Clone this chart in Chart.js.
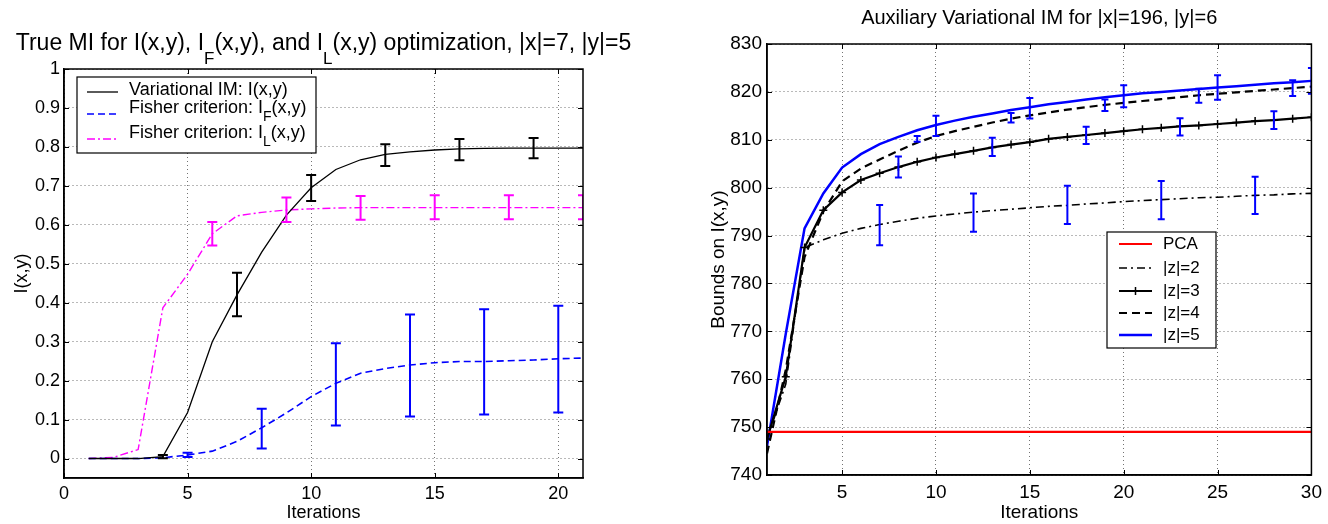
<!DOCTYPE html>
<html>
<head>
<meta charset="utf-8">
<script src="https://cdn.jsdelivr.net/npm/chart.js@4.4.1/dist/chart.umd.min.js"></script>
<style>
  html, body { margin: 0; padding: 0; background: #fff; }
  #wrap { position: relative; width: 1328px; height: 524px; }
  .pane { position: absolute; top: 0; width: 664px; height: 524px; }
</style>
</head>
<body>
<div id="wrap">
  <div class="pane" style="left:0"><canvas id="leftChart" width="664" height="524"></canvas></div>
  <div class="pane" style="left:664px"><canvas id="rightChart" width="664" height="524"></canvas></div>
</div>
<script>
// ==============================
// data: left panel (|x|=7, |y|=5)
// ==============================
const leftIters = [1, 2, 3, 4, 5, 6, 7, 8, 9, 10, 11, 12, 13, 14, 15, 16, 17, 18, 19, 20, 21];
const miVariational = [0, 0, 0, 0.005, 0.118, 0.3, 0.42, 0.53, 0.625, 0.695, 0.742, 0.767, 0.781, 0.787, 0.792, 0.795, 0.796, 0.797, 0.797, 0.797, 0.797];
const miFisherF = [0, 0, 0, 0.002, 0.009, 0.019, 0.044, 0.079, 0.117, 0.159, 0.193, 0.219, 0.231, 0.24, 0.246, 0.249, 0.249, 0.251, 0.253, 0.256, 0.258];
const miFisherL = [0, 0.003, 0.023, 0.387, 0.473, 0.577, 0.623, 0.632, 0.638, 0.641, 0.643, 0.644, 0.644, 0.644, 0.644, 0.644, 0.644, 0.644, 0.644, 0.644, 0.644];

const varErrX = [4, 7, 10, 13, 16, 19];
const varErrLo = [0.001, 0.365, 0.661, 0.751, 0.766, 0.771];
const varErrHi = [0.009, 0.477, 0.728, 0.807, 0.82, 0.823];
const fErrX = [5, 8, 11, 14, 17, 20];
const fErrLo = [0.004, 0.026, 0.085, 0.108, 0.113, 0.118];
const fErrHi = [0.015, 0.128, 0.296, 0.37, 0.383, 0.392];
const lErrX = [6, 9, 12, 15, 18, 21];
const lErrLo = [0.547, 0.607, 0.613, 0.614, 0.614, 0.614];
const lErrHi = [0.607, 0.67, 0.674, 0.676, 0.676, 0.676];

const leftXTicks = [0, 5, 10, 15, 20];
const leftYTicks = [0, 0.1, 0.2, 0.3, 0.4, 0.5, 0.6, 0.7, 0.8, 0.9, 1];

// ==============================
// data: right panel (|x|=196, |y|=6)
// ==============================
const rightIters = [1, 2, 3, 4, 5, 6, 7, 8, 9, 10, 11, 12, 13, 14, 15, 16, 17, 18, 19, 20, 21, 22, 23, 24, 25, 26, 27, 28, 29, 30];
const pcaBound = [749, 749, 749, 749, 749, 749, 749, 749, 749, 749, 749, 749, 749, 749, 749, 749, 749, 749, 749, 749, 749, 749, 749, 749, 749, 749, 749, 749, 749, 749];
const boundZ2 = [747.5, 759, 787.5, 789.1, 790.5, 791.5, 792.3, 793.0, 793.6, 794.1, 794.5, 794.9, 795.2, 795.5, 795.8, 796.1, 796.3, 796.6, 796.8, 797.1, 797.3, 797.5, 797.7, 797.9, 798.0, 798.2, 798.4, 798.5, 798.7, 798.8];
const boundZ3 = [747.5, 760.5, 787.5, 795.3, 799.0, 801.6, 803.0, 804.3, 805.4, 806.3, 807.0, 807.7, 808.4, 809.0, 809.5, 810.2, 810.6, 811.0, 811.4, 811.8, 812.2, 812.5, 812.8, 813.0, 813.3, 813.6, 813.9, 814.1, 814.4, 814.7];
const boundZ4 = [744.5, 762, 785.5, 795.0, 801.3, 804.0, 805.9, 807.7, 809.4, 810.8, 811.8, 812.7, 813.6, 814.4, 815.1, 815.7, 816.3, 816.8, 817.3, 817.7, 818.1, 818.5, 818.9, 819.3, 819.6, 819.9, 820.2, 820.5, 820.8, 821.1];
const boundZ5 = [746, 769.5, 791.5, 798.8, 804.2, 807.0, 809.1, 810.6, 812.0, 813.1, 814.0, 814.8, 815.5, 816.2, 816.8, 817.4, 817.9, 818.4, 818.9, 819.3, 819.7, 820.0, 820.3, 820.6, 820.9, 821.2, 821.5, 821.8, 822.0, 822.3];

const z2ErrX = [7, 12, 17, 22, 27];
const z2ErrLo = [788.0, 790.8, 792.4, 793.4, 794.5];
const z2ErrHi = [796.4, 798.8, 800.4, 801.4, 802.3];
const z3ErrX = [8, 13, 18, 23, 28];
const z3ErrLo = [802.1, 806.6, 809.1, 810.9, 812.25];
const z3ErrHi = [806.5, 810.4, 812.7, 814.5, 815.95];
const z4ErrX = [9, 14, 19, 24, 29];
const z4ErrLo = [809.6, 813.6, 816.0, 817.75, 819.15];
const z4ErrHi = [810.8, 815.6, 818.4, 820.65, 822.45];
const z5ErrX = [10, 15, 20, 25, 30];
const z5ErrLo = [810.8, 814.45, 816.8, 818.35, 819.6];
const z5ErrHi = [815.0, 818.75, 821.4, 823.45, 825.0];

const rightXTicks = [5, 10, 15, 20, 25, 30];
const rightYTicks = [740, 750, 760, 770, 780, 790, 800, 810, 820, 830];

// ==============================
// helpers
// ==============================
const FONT = "'Liberation Sans', Arial, Helvetica, sans-serif";
Chart.defaults.font.family = FONT;
Chart.defaults.color = "#000";
Chart.defaults.animation = false;

const GRID = "rgba(0,0,0,0.55)";

function pts(xs, ys) {
  return xs.map((x, i) => ({ x: x, y: ys[i] }));
}

// text with subscripts: parts = [[text, isSub], ...]
function drawRich(ctx, parts, x, y, size, align, subDrop) {
  const subSize = Math.round(size * 0.75);
  let w = 0;
  parts.forEach((p) => {
    ctx.font = (p[1] ? subSize : size) + "px " + FONT;
    w += ctx.measureText(p[0]).width;
  });
  let cx = align === "center" ? x - w / 2 : x;
  ctx.textAlign = "left";
  ctx.textBaseline = "middle";
  ctx.fillStyle = "#000";
  parts.forEach((p) => {
    ctx.font = (p[1] ? subSize : size) + "px " + FONT;
    ctx.fillText(p[0], cx, p[1] ? y + size * subDrop : y);
    cx += ctx.measureText(p[0]).width;
  });
}

// ==============================
// plugins
// ==============================
const errorBarPlugin = {
  id: "errorBars",
  afterDatasetsDraw(chart, args, opts) {
    const ctx = chart.ctx;
    const { left, right, top, bottom } = chart.chartArea;
    const xs = chart.scales.x;
    const ys = chart.scales.y;
    ctx.save();
    ctx.beginPath();
    ctx.rect(left, top, right - left, bottom - top);
    ctx.clip();
    chart.data.datasets.forEach((ds) => {
      if (!ds.errX) return;
      ctx.strokeStyle = ds.errColor || ds.borderColor;
      ctx.lineWidth = opts.width;
      ctx.setLineDash([]);
      ds.errX.forEach((x, i) => {
        const px = xs.getPixelForValue(x);
        const lo = ys.getPixelForValue(ds.errLo[i]);
        const hi = ys.getPixelForValue(ds.errHi[i]);
        ctx.beginPath();
        ctx.moveTo(px, lo);
        ctx.lineTo(px, hi);
        ctx.moveTo(px - opts.cap, lo);
        ctx.lineTo(px + opts.cap, lo);
        ctx.moveTo(px - opts.cap, hi);
        ctx.lineTo(px + opts.cap, hi);
        ctx.stroke();
      });
    });
    ctx.restore();
  },
};

// box frame + inward tick marks on all four sides
const framePlugin = {
  id: "frame",
  afterDraw(chart) {
    const ctx = chart.ctx;
    const { left, right, top, bottom } = chart.chartArea;
    ctx.save();
    ctx.strokeStyle = "#000";
    ctx.setLineDash([]);
    ctx.lineWidth = 1;
    const tl = 5;
    chart.scales.x.ticks.forEach((t) => {
      const px = Math.round(chart.scales.x.getPixelForValue(t.value)) + 0.5;
      ctx.beginPath();
      ctx.moveTo(px, bottom);
      ctx.lineTo(px, bottom - tl);
      ctx.moveTo(px, top);
      ctx.lineTo(px, top + tl);
      ctx.stroke();
    });
    chart.scales.y.ticks.forEach((t) => {
      const py = Math.round(chart.scales.y.getPixelForValue(t.value)) + 0.5;
      ctx.beginPath();
      ctx.moveTo(left, py);
      ctx.lineTo(left + tl, py);
      ctx.moveTo(right, py);
      ctx.lineTo(right - tl, py);
      ctx.stroke();
    });
    ctx.lineWidth = 1.5;
    ctx.strokeRect(left, top, right - left, bottom - top);
    ctx.restore();
  },
};

// title with subscripts
const richTitlePlugin = {
  id: "richTitle",
  afterDraw(chart, args, opts) {
    const { left, right } = chart.chartArea;
    const ctx = chart.ctx;
    ctx.save();
    drawRich(ctx, opts.parts, (left + right) / 2, opts.y, opts.size, "center", 0.65);
    ctx.restore();
  },
};

// boxed legend, MATLAB style
const boxLegendPlugin = {
  id: "boxLegend",
  afterDraw(chart, args, opts) {
    const ctx = chart.ctx;
    const [bx, by, bw, bh] = opts.box;
    ctx.save();
    ctx.fillStyle = "#fff";
    ctx.fillRect(bx, by, bw, bh);
    ctx.strokeStyle = "#000";
    ctx.lineWidth = 1.2;
    ctx.setLineDash([]);
    ctx.strokeRect(bx, by, bw, bh);
    opts.rows.forEach((row) => {
      const ds = chart.data.datasets[row.ds];
      ctx.strokeStyle = ds.borderColor;
      ctx.lineWidth = ds.borderWidth;
      ctx.setLineDash(ds.borderDash || []);
      ctx.beginPath();
      ctx.moveTo(opts.lineX[0], row.lineY);
      ctx.lineTo(opts.lineX[1], row.lineY);
      ctx.stroke();
      if (ds.pointStyle === "cross") {
        const mx = (opts.lineX[0] + opts.lineX[1]) / 2;
        const r = ds.pointRadius;
        ctx.setLineDash([]);
        ctx.lineWidth = ds.pointBorderWidth;
        ctx.beginPath();
        ctx.moveTo(mx, row.lineY - r);
        ctx.lineTo(mx, row.lineY + r);
        ctx.moveTo(mx - r, row.lineY);
        ctx.lineTo(mx + r, row.lineY);
        ctx.stroke();
      }
      drawRich(ctx, row.parts, opts.textX, row.textY, opts.size, "left", opts.subDrop);
    });
    ctx.restore();
  },
};

function axisCommon(min, max, tickList, fitKey, fitVal, tickSize, tickPad, titleText, titleSize, titlePad) {
  return {
    type: "linear",
    min: min,
    max: max,
    afterBuildTicks(axis) {
      axis.ticks = tickList.map((v) => ({ value: v }));
    },
    afterFit(scale) {
      scale[fitKey] = fitVal;
    },
    grid: { color: GRID, lineWidth: 1, drawTicks: false },
    border: { color: "#000", width: 1.5, dash: [1, 3] },
    ticks: {
      font: { size: tickSize },
      padding: tickPad,
      maxRotation: 0,
      autoSkip: false,
      color: "#000",
      callback: (v) => String(v),
    },
    title: { display: true, text: titleText, font: { size: titleSize }, padding: titlePad, color: "#000" },
  };
}

// ==============================
// left chart
// ==============================
new Chart(document.getElementById("leftChart"), {
  type: "line",
  data: {
    datasets: [
      {
        label: "Variational IM: I(x,y)",
        data: pts(leftIters, miVariational),
        borderColor: "#000000",
        borderWidth: 1.3,
        errX: varErrX, errLo: varErrLo, errHi: varErrHi,
      },
      {
        label: "Fisher criterion: I_F(x,y)",
        data: pts(leftIters, miFisherF),
        borderColor: "#0000ff",
        borderWidth: 1.6,
        borderDash: [7, 4],
        errX: fErrX, errLo: fErrLo, errHi: fErrHi,
      },
      {
        label: "Fisher criterion: I_L(x,y)",
        data: pts(leftIters, miFisherL),
        borderColor: "#ff00ff",
        borderWidth: 1.4,
        borderDash: [8, 3, 2, 3],
        errX: lErrX, errLo: lErrLo, errHi: lErrHi,
      },
    ],
  },
  options: {
    responsive: false,
    maintainAspectRatio: false,
    animation: false,
    elements: { point: { radius: 0 }, line: { tension: 0 } },
    layout: { padding: { left: 0, top: 69, right: 81, bottom: 0 } },
    plugins: {
      legend: { display: false },
      tooltip: { enabled: false },
      errorBars: { width: 2, cap: 5 },
      richTitle: {
        y: 44,
        size: 23,
        parts: [["True MI for I(x,y), I", 0], ["F", 1], ["(x,y), and I", 0], ["L", 1], ["(x,y) optimization, |x|=7, |y|=5", 0]],
      },
      boxLegend: {
        box: [77, 77, 239, 76],
        lineX: [87, 118],
        textX: 129,
        size: 18,
        subDrop: 0.5,
        rows: [
          { ds: 0, lineY: 92, textY: 90, parts: [["Variational IM: I(x,y)", 0]] },
          { ds: 1, lineY: 114, textY: 108, parts: [["Fisher criterion: I", 0], ["F", 1], ["(x,y)", 0]] },
          { ds: 2, lineY: 139, textY: 133, parts: [["Fisher criterion: I", 0], ["L", 1], ["(x,y)", 0]] },
        ],
      },
    },
    scales: {
      x: axisCommon(0, 21, leftXTicks, "height", 46, 18, 5, "Iterations", 18, { top: 0, bottom: 0 }),
      y: axisCommon(-0.05, 1, leftYTicks, "width", 64, 18, 4, "I(x,y)", 18, { top: 11, bottom: 0 }),
    },
  },
  plugins: [errorBarPlugin, framePlugin, richTitlePlugin, boxLegendPlugin],
});

// ==============================
// right chart
// ==============================
new Chart(document.getElementById("rightChart"), {
  type: "line",
  data: {
    datasets: [
      {
        label: "PCA",
        data: pts(rightIters, pcaBound),
        borderColor: "#ff0000",
        borderWidth: 2.2,
      },
      {
        label: "|z|=2",
        data: pts(rightIters, boundZ2),
        borderColor: "#000000",
        borderWidth: 1.6,
        borderDash: [8, 4, 2, 4],
        errX: z2ErrX, errLo: z2ErrLo, errHi: z2ErrHi, errColor: "#0000ff",
      },
      {
        label: "|z|=3",
        data: pts(rightIters, boundZ3),
        borderColor: "#000000",
        borderWidth: 2.2,
        pointStyle: "cross",
        pointRadius: 4,
        pointBorderWidth: 1.5,
        pointBorderColor: "#000000",
        errX: z3ErrX, errLo: z3ErrLo, errHi: z3ErrHi, errColor: "#0000ff",
      },
      {
        label: "|z|=4",
        data: pts(rightIters, boundZ4),
        borderColor: "#000000",
        borderWidth: 2.2,
        borderDash: [8, 5],
        errX: z4ErrX, errLo: z4ErrLo, errHi: z4ErrHi, errColor: "#0000ff",
      },
      {
        label: "|z|=5",
        data: pts(rightIters, boundZ5),
        borderColor: "#0000ff",
        borderWidth: 2.5,
        errX: z5ErrX, errLo: z5ErrLo, errHi: z5ErrHi, errColor: "#0000ff",
      },
    ],
  },
  options: {
    responsive: false,
    maintainAspectRatio: false,
    animation: false,
    elements: { point: { radius: 0 }, line: { tension: 0 } },
    layout: { padding: { left: 0, top: 44, right: 14, bottom: 0 } },
    plugins: {
      legend: { display: false },
      tooltip: { enabled: false },
      errorBars: { width: 2, cap: 3.5 },
      richTitle: {
        y: 18,
        size: 20,
        parts: [["Auxiliary Variational IM for |x|=196, |y|=6", 0]],
      },
      boxLegend: {
        box: [443, 232, 109, 116],
        lineX: [455, 488],
        textX: 499,
        size: 17,
        subDrop: 0.6,
        rows: [
          { ds: 0, lineY: 244, textY: 244, parts: [["PCA", 0]] },
          { ds: 1, lineY: 268, textY: 268, parts: [["|z|=2", 0]] },
          { ds: 2, lineY: 291, textY: 291, parts: [["|z|=3", 0]] },
          { ds: 3, lineY: 313, textY: 313, parts: [["|z|=4", 0]] },
          { ds: 4, lineY: 335, textY: 335, parts: [["|z|=5", 0]] },
        ],
      },
    },
    scales: {
      x: axisCommon(1, 30, rightXTicks, "height", 49, 19, 6, "Iterations", 19, { top: 0, bottom: 0 }),
      y: axisCommon(740, 830, rightYTicks, "width", 103, 19, 5, "Bounds on I(x,y)", 19, { top: 43, bottom: 0 }),
    },
  },
  plugins: [errorBarPlugin, framePlugin, richTitlePlugin, boxLegendPlugin],
});
</script>
</body>
</html>
